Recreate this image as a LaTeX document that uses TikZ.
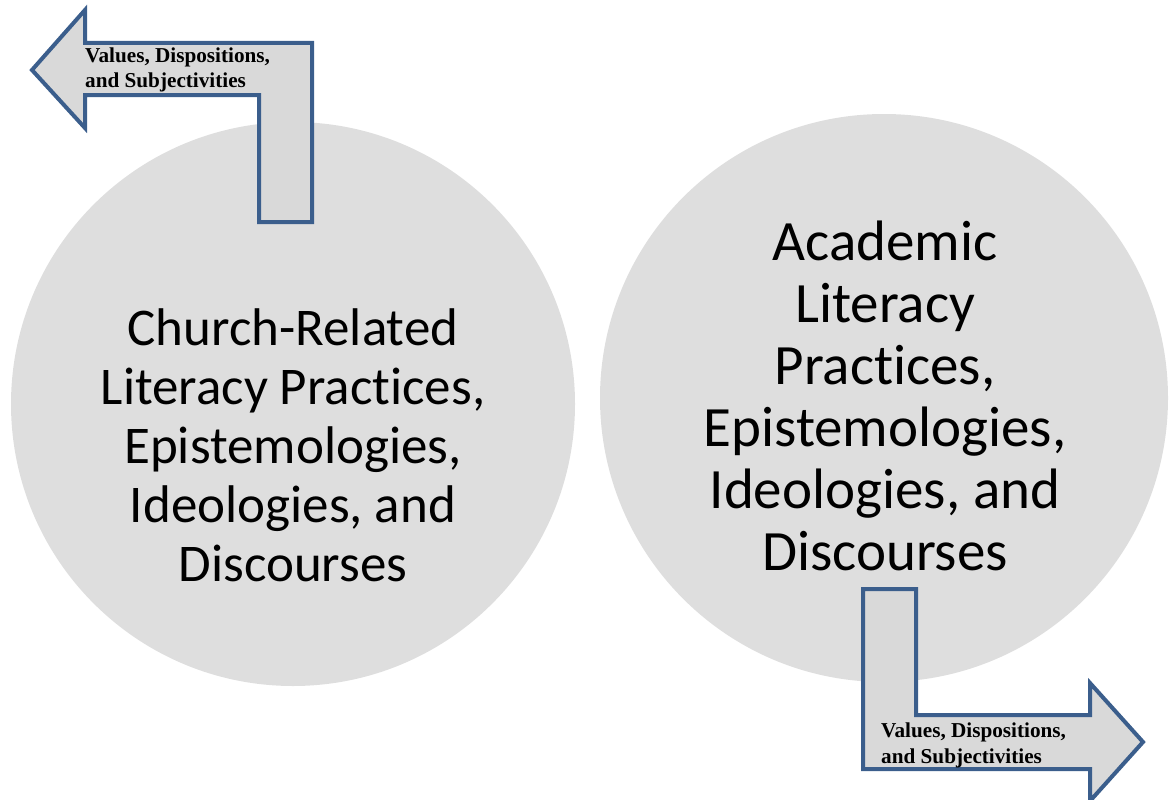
\documentclass[tikz,border=0pt]{standalone}
\usepackage{fontspec}
\setmainfont{Carlito}[Ligatures={NoCommon}]
\newfontfamily\serifb{Liberation Serif}
\definecolor{circfill}{RGB}{222,222,222}
\definecolor{arrfill}{RGB}{217,217,217}
\definecolor{arredge}{RGB}{59,94,140}
\begin{document}
\begin{tikzpicture}[x=1pt,y=-1pt,
  disc/.style={circle,fill=circfill,draw=none,inner sep=0pt},
  bigtext/.style={align=center,font=\fontsize{53}{59}\selectfont,inner sep=0pt},
  bendarrow/.style={fill=arrfill,draw=arredge,line width=4pt,line join=miter},
  arrtext/.style={align=left,font=\serifb\bfseries\fontsize{21.2}{25}\selectfont,inner sep=0pt}]
\useasboundingbox (0,0) rectangle (1170,800);
\node[disc,minimum size=564pt] (c1) at (293,404) {};
\node[disc,minimum size=568pt] (c2) at (884,398) {};
\node[bigtext] (t1) at (293,445) {Church-Related\\Literacy Practices,\\Epistemologies,\\Ideologies, and\\Discourses};
\node[bigtext,font=\fontsize{57}{62}\selectfont] (t2) at (885,396) {Academic\\Literacy\\Practices,\\Epistemologies,\\Ideologies, and\\Discourses};
\draw[bendarrow] (32,70) -- (85,10) -- (85,43) -- (312,43) -- (312,222) -- (259,222) -- (259,95) -- (85,95) -- (85,128) -- cycle;
\draw[bendarrow] (863,589) -- (916,589) -- (916,715) -- (1090,715) -- (1090,683) -- (1143,742) -- (1090,801) -- (1090,769) -- (863,769) -- cycle;
\node[arrtext,anchor=base west] (a1) at (85,88) {Values, Dispositions,\\and Subjectivities};
\node[arrtext,anchor=base west,font=\serifb\bfseries\fontsize{21.2}{26}\selectfont] (a2) at (881,763) {Values, Dispositions,\\and Subjectivities};
\end{tikzpicture}
\end{document}
